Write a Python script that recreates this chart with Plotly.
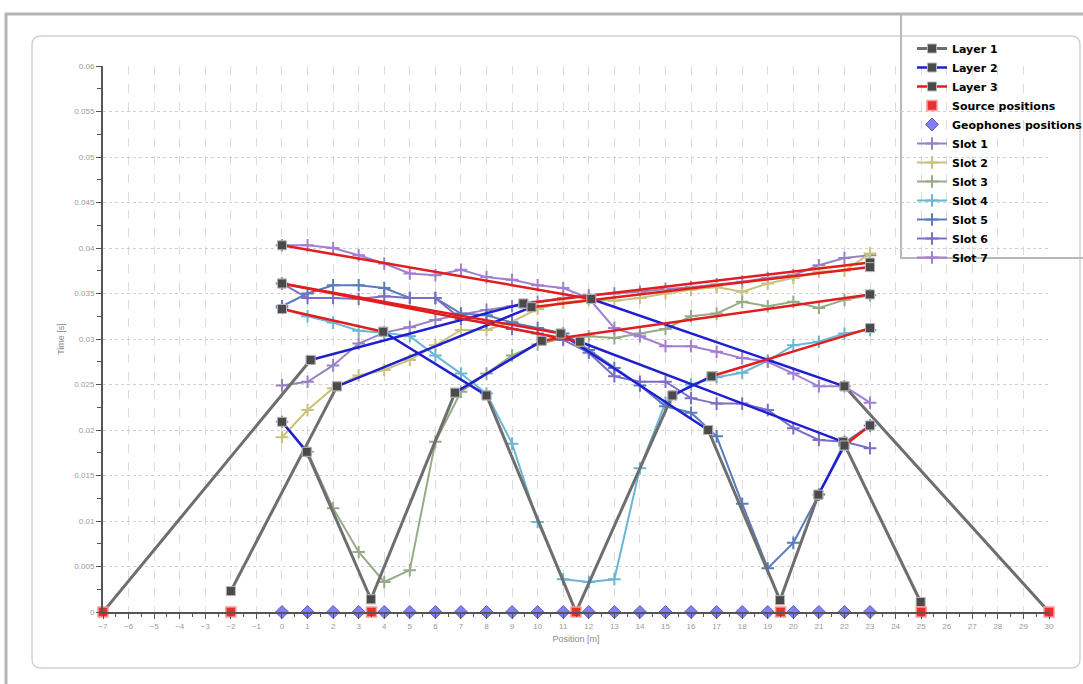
import plotly.graph_objects as go

W, H = 1083, 684
# plot area in pixels (left, right, top, bottom)
PL, PR, PT, PB = 103, 1049, 66, 612

# ---- survey geometry ----
source_x = [-7, -2, 3.5, 11.5, 19.5, 25, 30]
source_t = [0, 0, 0, 0, 0, 0, 0]
geophone_x = [0, 1, 2, 3, 4, 5, 6, 7, 8, 9, 10, 11, 12, 13, 14, 15, 16, 17, 18, 19, 20, 21, 22, 23]
geophone_t = [0, 0, 0, 0, 0, 0, 0, 0, 0, 0, 0, 0, 0, 0, 0, 0, 0, 0, 0, 0, 0, 0, 0, 0]

# ---- modelled travel-time branches (start / end of each segment) ----
layer1_x = [[-7, 1.12], [-2, 2.15], [3.48, 0.97], [3.48, 6.77], [11.5, 8.0],
            [11.5, 15.27], [19.48, 16.67], [19.48, 20.98], [24.98, 21.95], [30, 22.0]]
layer1_t = [[0.0, 0.0277], [0.0023, 0.0248], [0.0014, 0.0176], [0.0014, 0.0241], [0.0, 0.0238],
            [0.0, 0.0238], [0.0013, 0.0200], [0.0013, 0.0129], [0.0011, 0.0187], [0.0, 0.0248]]

layer2_x = [[1.12, 9.44], [2.15, 9.76], [0.97, 0.0], [6.77, 10.16], [8.0, 3.96],
            [15.27, 16.8], [16.67, 10.9], [20.98, 22.0], [21.95, 11.65], [22.0, 12.1]]
layer2_t = [[0.0277, 0.0339], [0.0248, 0.0335], [0.0176, 0.0209], [0.0241, 0.0298], [0.0238, 0.0308],
            [0.0238, 0.0259], [0.0200, 0.0306], [0.0129, 0.0183], [0.0187, 0.0297], [0.0248, 0.0344]]

layer3_x = [[9.44, 23], [9.76, 23], [10.16, 23], [3.96, 0], [16.8, 23],
            [10.9, 0], [22.0, 23], [11.65, 0], [12.1, 0]]
layer3_t = [[0.0339, 0.0384], [0.0335, 0.0379], [0.0298, 0.0349], [0.0308, 0.0333], [0.0259, 0.0312],
            [0.0306, 0.0361], [0.0183, 0.0205], [0.0297, 0.0361], [0.0344, 0.0403]]

# ---- picked first arrivals per shot slot, at geophones 0..23 ----
slot1_t = [0.0249, 0.0253, 0.0271, 0.0295, 0.0307, 0.0313, 0.0321, 0.0327, 0.0332, 0.0336, 0.0341, 0.0345,
           0.0348, 0.0350, 0.0352, 0.0355, 0.0357, 0.0360, 0.0363, 0.0367, 0.0370, 0.0381, 0.0389, 0.0392]
slot2_t = [0.0192, 0.0222, 0.0246, 0.0260, 0.0266, 0.0277, 0.0293, 0.0310, 0.0310, 0.0319, 0.0333, 0.0340,
           0.0343, 0.0342, 0.0345, 0.0350, 0.0354, 0.0357, 0.0352, 0.0361, 0.0367, 0.0374, 0.0375, 0.0394]
slot3_t = [0.0209, 0.0176, 0.0114, 0.0066, 0.0033, 0.0046, 0.0187, 0.0242, 0.0262, 0.0282, 0.0294, 0.0301,
           0.0303, 0.0301, 0.0306, 0.0311, 0.0325, 0.0328, 0.0341, 0.0336, 0.0341, 0.0334, 0.0343, 0.0348]
slot4_t = [0.0334, 0.0325, 0.0318, 0.0309, 0.0307, 0.0303, 0.0282, 0.0262, 0.0240, 0.0185, 0.0099, 0.0036,
           0.0033, 0.0036, 0.0158, 0.0230, 0.0250, 0.0258, 0.0263, 0.0276, 0.0293, 0.0297, 0.0306, 0.0310]
slot5_t = [0.0336, 0.0350, 0.0359, 0.0359, 0.0356, 0.0345, 0.0345, 0.0328, 0.0326, 0.0318, 0.0312, 0.0306,
           0.0288, 0.0268, 0.0249, 0.0226, 0.0219, 0.0193, 0.0119, 0.0048, 0.0076, 0.0129, 0.0186, 0.0205]
slot6_t = [0.0361, 0.0345, 0.0345, 0.0344, 0.0347, 0.0345, 0.0345, 0.0322, 0.0318, 0.0311, 0.0306, 0.0299,
           0.0285, 0.0259, 0.0253, 0.0253, 0.0235, 0.0229, 0.0229, 0.0222, 0.0202, 0.0189, 0.0187, 0.0180]
slot7_t = [0.0403, 0.0403, 0.0400, 0.0392, 0.0383, 0.0372, 0.0370, 0.0376, 0.0368, 0.0365, 0.0359, 0.0356,
           0.0345, 0.0312, 0.0303, 0.0292, 0.0292, 0.0286, 0.0279, 0.0275, 0.0262, 0.0248, 0.0248, 0.0230]

slot_names = ["Slot 1", "Slot 2", "Slot 3", "Slot 4", "Slot 5", "Slot 6", "Slot 7"]
slot_values = [slot1_t, slot2_t, slot3_t, slot4_t, slot5_t, slot6_t, slot7_t]
slot_colors = ["#9583c4", "#c9c27c", "#97ab88", "#6bb6d4", "#5b7bbb", "#7a6ec6", "#a27fd2"]


def join_segments(xs, ts):
    """Flatten segment lists into one polyline broken by gaps."""
    out_x, out_t = [], []
    for sx, st in zip(xs, ts):
        out_x += list(sx) + [None]
        out_t += list(st) + [None]
    return out_x, out_t


fig = go.Figure()

# picks
for rank, (name, vals, col) in enumerate(zip(slot_names, slot_values, slot_colors)):
    fig.add_trace(go.Scatter(
        x=geophone_x, y=vals, mode="lines+markers", name=name,
        line=dict(color=col, width=2),
        marker=dict(symbol="cross-thin", size=9, color=col, line=dict(color=col, width=2)),
        legendrank=10 + rank, cliponaxis=False))

# model branches
layers = [("Layer 1", layer1_x, layer1_t, "#6e6e6e", 3),
          ("Layer 2", layer2_x, layer2_t, "#1f1fd0", 2.5),
          ("Layer 3", layer3_x, layer3_t, "#e21d1d", 2.5)]
for rank, (name, lx, lt, col, w) in enumerate(layers):
    xx, tt = join_segments(lx, lt)
    fig.add_trace(go.Scatter(
        x=xx, y=tt, mode="lines+markers", name=name,
        line=dict(color=col, width=w),
        marker=dict(symbol="square", size=9, color="#4a4a4a", line=dict(color="#b5b5b5", width=1)),
        legendrank=1 + rank, cliponaxis=False))

fig.add_trace(go.Scatter(
    x=geophone_x, y=geophone_t, mode="markers", name="Geophones positions",
    marker=dict(symbol="diamond", size=10, color="#8080f2", line=dict(color="#5a5ad6", width=1)),
    legendrank=5, cliponaxis=False))
fig.add_trace(go.Scatter(
    x=source_x, y=source_t, mode="markers", name="Source positions",
    marker=dict(symbol="square", size=10, color="#ea2f2f", line=dict(color="#ff9a9a", width=1.5)),
    legendrank=4, cliponaxis=False))


def px2paper(px, py):
    return (px - PL) / (PR - PL), (PB - py) / (PB - PT)


def rounded_rect(x0, y0, x1, y1, r):
    a = px2paper
    p = ["M %f,%f" % a(x0 + r, y0),
         "L %f,%f" % a(x1 - r, y0),
         "Q %f,%f %f,%f" % (*a(x1, y0), *a(x1, y0 + r)),
         "L %f,%f" % a(x1, y1 - r),
         "Q %f,%f %f,%f" % (*a(x1, y1), *a(x1 - r, y1)),
         "L %f,%f" % a(x0 + r, y1),
         "Q %f,%f %f,%f" % (*a(x0, y1), *a(x0, y1 - r)),
         "L %f,%f" % a(x0, y0 + r),
         "Q %f,%f %f,%f" % (*a(x0, y0), *a(x0 + r, y0)),
         "Z"]
    return " ".join(p)


ox0, oy0 = px2paper(6, 14)
ox1, oy1 = px2paper(1095, 700)
lx0, ly0 = px2paper(901, 14)
lx1, ly1 = px2paper(1095, 258)

shapes = [
    dict(type="rect", xref="paper", yref="paper", x0=ox0, y0=oy0, x1=ox1, y1=oy1,
         line=dict(color="#b3b3b3", width=3), layer="below"),
    dict(type="path", xref="paper", yref="paper", path=rounded_rect(32, 36, 1080, 668, 9),
         line=dict(color="#d2d2d2", width=1.5), layer="below"),
    dict(type="rect", xref="paper", yref="paper", x0=lx0, y0=ly0, x1=lx1, y1=ly1,
         line=dict(color="#b8b8b8", width=2), layer="below"),
]

tickfont = dict(family="Liberation Sans, Arial, sans-serif", size=8, color="#9a9a9a")

fig.update_layout(
    width=W, height=H,
    margin=dict(l=PL, r=W - PR, t=PT, b=H - PB, pad=0, autoexpand=False),
    paper_bgcolor="white", plot_bgcolor="white",
    shapes=shapes,
    showlegend=True,
    legend=dict(x=px2paper(912, 0)[0], y=px2paper(0, 34)[1], xanchor="left", yanchor="top",
                bgcolor="rgba(0,0,0,0)", borderwidth=0,
                font=dict(family="DejaVu Sans, Arial, sans-serif", size=11, color="black", weight="bold"),
                itemwidth=30, traceorder="normal"),
    xaxis=dict(range=[-7, 30], dtick=1, tick0=0, ticks="outside", ticklen=5, tickwidth=1,
               tickcolor="#555555", showline=True, linecolor="#555555", linewidth=2,
               showgrid=True, gridcolor="#dcdcdc", griddash="dash", gridwidth=1,
               zeroline=False, tickfont=tickfont,
               minor=dict(dtick=0.5, ticks="outside", ticklen=3, tickcolor="#555555", showgrid=False),
               title=dict(text="Position [m]", font=dict(family="Liberation Sans, Arial, sans-serif",
                                                          size=9, color="#8a8a8a"), standoff=6)),
    yaxis=dict(range=[0, 0.06], dtick=0.005, tick0=0, ticks="outside", ticklen=5, tickwidth=1,
               tickcolor="#555555", showline=True, linecolor="#555555", linewidth=2,
               showgrid=True, gridcolor="#d0d0d0", griddash="dot", gridwidth=1,
               zeroline=False, tickfont=tickfont,
               minor=dict(dtick=0.0025, ticks="outside", ticklen=4, tickcolor="#555555", showgrid=False),
               title=dict(text="Time [s]", font=dict(family="Liberation Sans, Arial, sans-serif",
                                                     size=9, color="#8a8a8a"), standoff=8)),
)

fig.write_html("out.html")
